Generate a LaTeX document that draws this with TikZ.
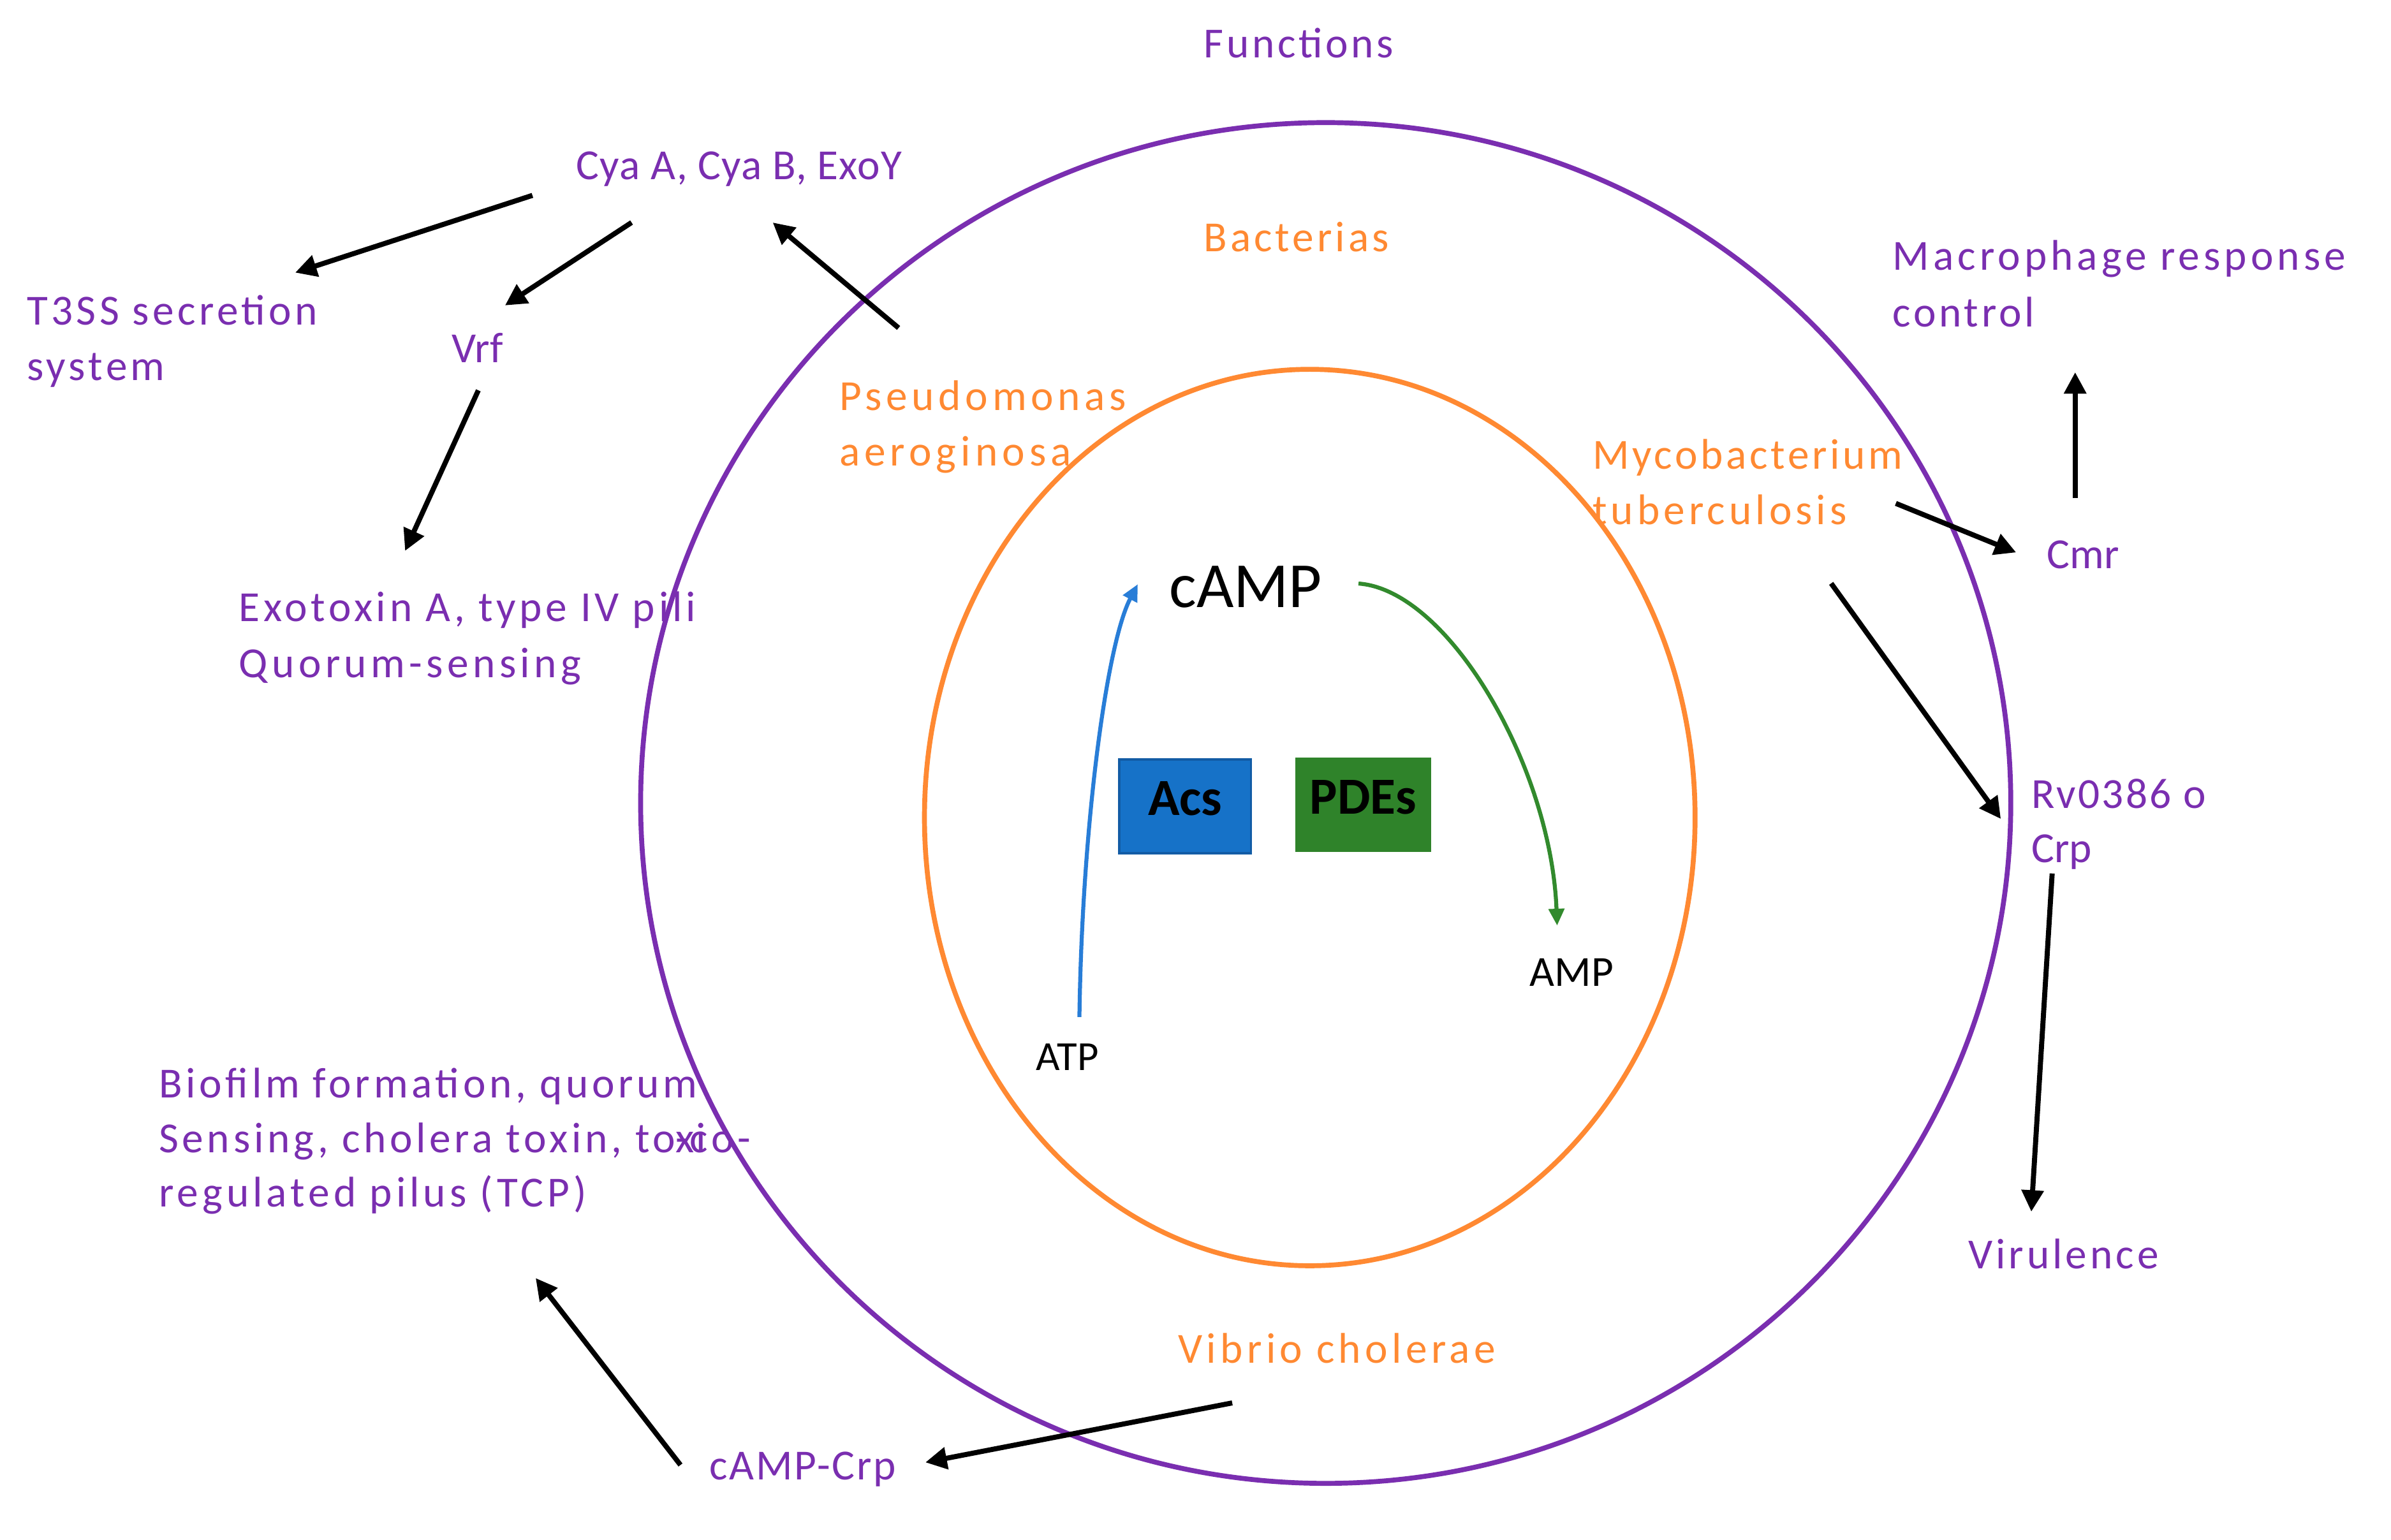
\documentclass[tikz,border=0pt]{standalone}
\usepackage{fontspec}
\setmainfont{Carlito}
\usetikzlibrary{arrows.meta}
\definecolor{fpurple}{RGB}{122,46,176}
\definecolor{forange}{RGB}{255,137,50}
\definecolor{cblue}{RGB}{40,125,215}
\definecolor{acsblue}{RGB}{22,114,200}
\definecolor{acsborder}{RGB}{18,92,165}
\definecolor{pdegreen}{RGB}{47,131,42}
\definecolor{cgreen}{RGB}{50,138,45}
\begin{document}
\begin{tikzpicture}[x=1pt,y=-1pt,
  txt/.style={anchor=base west, inner sep=0pt, font=\fontsize{28}{36}\selectfont},
  sp/.style={font=\fontsize{28}{36}\selectfont\addfontfeature{LetterSpace=#1}},
  sp/.default=9,
  fun/.style={txt, text=fpurple},
  bac/.style={txt, text=forange},
  arr/.style={-{Triangle[length=14pt,width=14pt]}, line width=3.3pt, black},
  carr/.style={-{Triangle[length=11pt,width=10pt]}, line width=2.6pt},
  ring/.style={line width=3.2pt},
  enz/.style={inner sep=0pt, line width=1.5pt, text=black, font=\fontsize{34}{40}\selectfont\bfseries, text height=22pt, text depth=10pt}
]
\useasboundingbox (0,0) rectangle (1560.1,1004.6);

% rings
\draw[ring, fpurple] (865,524) ellipse [x radius=447, y radius=444];
\draw[ring, forange] (854.6,533.5) ellipse [x radius=251.4, y radius=292.5];

% function texts
\node[fun, sp=7] (functions) at (785.3,37.8) {Functions};
\node[fun, sp=2] (cya) at (375.8,117) {Cya A, Cya B, ExoY};
\node[fun, sp=8] (t3ss) at (17.4,212) {T3SS secretion};
\node[fun, sp=8] (t3ssb) at (17.4,248.4) {system};
\node[fun] (vrf) at (294.6,236.5) {Vrf};
\node[fun, sp=8.5] (exo) at (155.8,405.5) {Exotoxin A, type IV pili};
\node[fun, sp=9.5] (exob) at (155.8,442) {Quorum-sensing};
\node[fun, sp=9] (macro) at (1234.8,176.2) {Macrophage response};
\node[fun, sp=7] (macrob) at (1234.8,213.1) {control};
\node[fun] (cmr) at (1335.4,370.8) {Cmr};
\node[fun, sp=5] (rv) at (1325.3,527.3) {Rv0386 o};
\node[fun] (rvb) at (1325.3,563) {Crp};
\node[fun, sp=7.5] (vir) at (1284,827.8) {Virulence};
\node[fun, sp=8.5] (bio) at (103.5,716.2) {Biofilm formation, quorum};
\node[fun, sp=8.5] (biob) at (103.5,752.3) {Sensing, cholera toxin, to\rlap{-}x\kern-0.1em\rlap{\kern0.15em i}co-};
\node[fun, sp=9] (bioc) at (103.5,787.5) {regulated pilus (TCP)};
\node[fun, sp=4] (crp) at (462.9,965.5) {cAMP-Crp};

% bacteria texts
\node[bac, sp=7.5] (bact) at (785.3,164.1) {Bacterias};
\node[bac, sp=10] (pseu) at (547.5,267.6) {Pseudomonas};
\node[bac, sp=10.5] (pseub) at (547.5,303.8) {aeroginosa};
\node[bac, sp=7] (myco) at (1039,306) {Mycobacterium};
\node[bac, sp=9] (mycob) at (1039,342.2) {tuberculosis};
\node[bac, sp=9.5, anchor=base east] (vib) at (976,889.4) {Vibrio cholerae};

% centre
\node[txt, font=\fontsize{42}{48}\selectfont] (camp) at (762.8,396.2) {cAMP};
\node[txt, font=\fontsize{27}{32}\selectfont] (atp) at (676,698.4) {ATP};
\node[txt, font=\fontsize{28}{32}\selectfont] (amp) at (998,643.5) {AMP};
\node[enz, draw=acsborder, fill=acsblue, minimum width=86pt, minimum height=61pt] (acs) at (773.3,526.2) {Acs};
\node[enz, draw=pdegreen, fill=pdegreen, minimum width=87pt, minimum height=60pt] (pde) at (889.5,525) {PDEs};

% arrow end points
\coordinate (c1s) at (347.4,127.5); \coordinate (c1e) at (192.6,177.9);
\coordinate (c2s) at (412.1,145.2); \coordinate (c2e) at (329.5,199.3);
\coordinate (c3s) at (586.3,214);   \coordinate (c3e) at (504.2,145.2);
\coordinate (c4s) at (312.1,254.7); \coordinate (c4e) at (264.3,359.5);
\coordinate (c5s) at (1237,328.5);  \coordinate (c5e) at (1315.5,360.5);
\coordinate (c6s) at (1354,325.2);  \coordinate (c6e) at (1354,242.9);
\coordinate (c7s) at (1194.8,380.7);\coordinate (c7e) at (1305.5,534.4);
\coordinate (c8s) at (1339,570);    \coordinate (c8e) at (1325.4,790.7);
\coordinate (c9s) at (804,915.5);   \coordinate (c9e) at (603.8,954.3);
\coordinate (c10s) at (444,956);    \coordinate (c10e) at (349.5,834);
\coordinate (bs) at (704.3,663.7);  \coordinate (be) at (742.4,381.2);
\coordinate (gs) at (886.4,380.8);  \coordinate (ge) at (1016,604);

\draw[arr] (c1s) -- (c1e);
\draw[arr] (c2s) -- (c2e);
\draw[arr] (c3s) -- (c3e);
\draw[arr] (c4s) -- (c4e);
\draw[arr] (c5s) -- (c5e);
\draw[arr] (c6s) -- (c6e);
\draw[arr] (c7s) -- (c7e);
\draw[arr] (c8s) -- (c8e);
\draw[arr] (c9s) -- (c9e);
\draw[arr] (c10s) -- (c10e);

\draw[carr, cblue] (bs) .. controls (706,540) and (722,420) .. (be);
\draw[carr, cgreen] (gs) .. controls (945,385) and (1012,500) .. (ge);
\end{tikzpicture}
\end{document}
